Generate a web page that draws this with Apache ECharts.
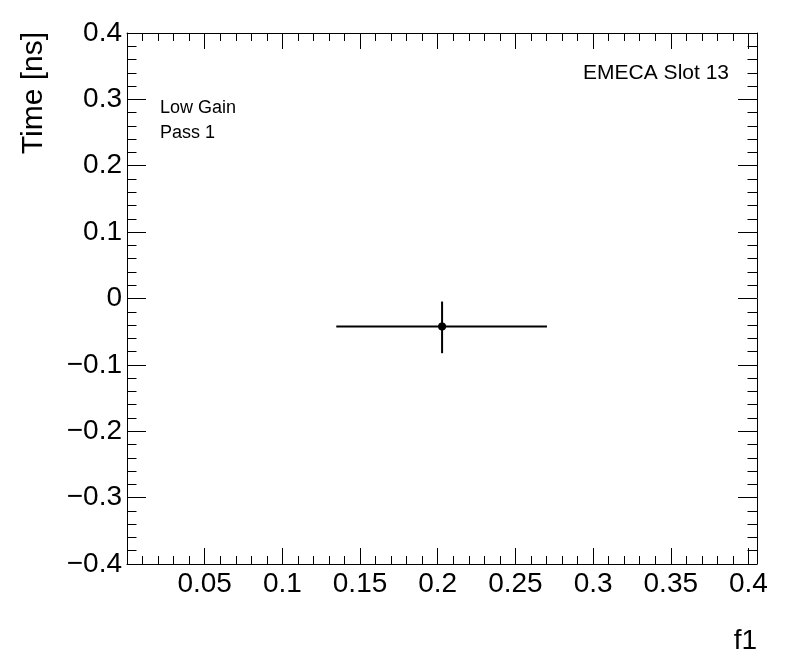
<!DOCTYPE html>
<html>
<head>
<meta charset="utf-8">
<script src="https://cdn.jsdelivr.net/npm/echarts@6/dist/echarts.min.js"></script>
<style>
html,body{margin:0;padding:0;background:#fff;}
#main{width:796px;height:672px;}
</style>
</head>
<body>
<div id="main"></div>
<script>
// ---- data ----
const pointX = [0.2028];
const pointY = [-0.0423];
const xErrLow = [0.1347];
const xErrHigh = [0.2703];
const yErrLow = [-0.0824];
const yErrHigh = [-0.0046];
const xTickLabels = [0.05, 0.1, 0.15, 0.2, 0.25, 0.3, 0.35, 0.4];
const yTickLabels = [-0.4, -0.3, -0.2, -0.1, 0, 0.1, 0.2, 0.3, 0.4];
const xTitle = 'f1';
const yTitle = 'Time [ns]';
const labelTexts = ['Low Gain', 'Pass 1'];
const slotText = 'EMECA Slot 13';

const FONT = '"Liberation Sans", Arial, Helvetica, sans-serif';
const X_MIN = 0, X_MAX = 0.4055, Y_MIN = -0.4, Y_MAX = 0.4;

const data = pointX.map((x, i) => [x, pointY[i], xErrLow[i], xErrHigh[i], yErrLow[i], yErrHigh[i]]);

function fmtX(v) {
  const r = Math.round(v * 100) / 100;
  if (Math.abs(v - r) > 1e-9) return '';
  return xTickLabels.some(t => Math.abs(t - r) < 1e-9) ? String(r) : '';
}
function fmtY(v) {
  const r = Math.round(v * 10) / 10;
  if (!yTickLabels.some(t => Math.abs(t - r) < 1e-9)) return '';
  const s = String(Math.abs(r));
  return r < 0 ? '\u2212' + s : s;
}

const lineStyle = {color: '#000', width: 1};

function xAxisDef(pos, interval, len, showLine, showLabel) {
  return {
    type: 'value', position: pos, min: X_MIN, max: X_MAX, interval: interval,
    axisLine: {show: showLine, onZero: false, lineStyle: lineStyle},
    axisTick: {show: true, inside: true, length: len, lineStyle: lineStyle},
    axisLabel: {show: showLabel, formatter: fmtX, fontFamily: FONT, fontSize: 28, color: '#000', margin: 6,
                showMinLabel: true, showMaxLabel: true},
    splitLine: {show: false}
  };
}
function yAxisDef(pos, showLabel) {
  return {
    type: 'value', position: pos, min: Y_MIN, max: Y_MAX, interval: 0.1,
    axisLine: {show: true, onZero: false, lineStyle: lineStyle},
    axisTick: {show: true, inside: true, length: 19, lineStyle: lineStyle},
    minorTick: {show: true, splitNumber: 5, length: 9.5, lineStyle: lineStyle},
    axisLabel: {show: showLabel, formatter: fmtY, fontFamily: FONT, fontSize: 28, color: '#000', margin: 5,
                padding: [4, 0, 0, 0]},
    splitLine: {show: false}
  };
}

const chart = echarts.init(document.getElementById('main'), null, {renderer: 'canvas'});
chart.setOption({
  animation: false,
  backgroundColor: '#fff',
  grid: {left: 127, right: 39, top: 33, bottom: 108, containLabel: false},
  xAxis: [
    xAxisDef('bottom', 0.05, 16, true, true),
    xAxisDef('bottom', 0.01, 8, false, false),
    xAxisDef('top', 0.05, 16, true, false),
    xAxisDef('top', 0.01, 8, false, false)
  ],
  yAxis: [
    yAxisDef('left', true),
    yAxisDef('right', false)
  ],
  graphic: [
    {type: 'text', x: 729, y: 73, style: {text: slotText, font: '21px ' + FONT, fill: '#000', align: 'right', verticalAlign: 'middle'}},
    {type: 'text', x: 160, y: 108, style: {text: labelTexts[0], font: '18px ' + FONT, fill: '#000', align: 'left', verticalAlign: 'middle'}},
    {type: 'text', x: 160, y: 133.5, style: {text: labelTexts[1], font: '18px ' + FONT, fill: '#000', align: 'left', verticalAlign: 'middle'}},
    {type: 'text', x: 33.5, y: 32, rotation: Math.PI / 2, style: {text: yTitle, font: '30px ' + FONT, fill: '#000', align: 'right', verticalAlign: 'middle'}},
    {type: 'text', x: 757, y: 641, style: {text: xTitle, font: '28px ' + FONT, fill: '#000', align: 'right', verticalAlign: 'middle'}}
  ],
  series: [{
    type: 'custom',
    xAxisIndex: 0, yAxisIndex: 0,
    data: data,
    renderItem: function (params, api) {
      const x = api.value(0), y = api.value(1);
      const c = api.coord([x, y]);
      const xl = api.coord([api.value(2), y]);
      const xh = api.coord([api.value(3), y]);
      const yl = api.coord([x, api.value(4)]);
      const yh = api.coord([x, api.value(5)]);
      const st = {stroke: '#000', lineWidth: 2};
      return {
        type: 'group',
        children: [
          {type: 'line', shape: {x1: xl[0], y1: xl[1], x2: xh[0], y2: xh[1]}, style: st},
          {type: 'line', shape: {x1: yl[0], y1: yl[1], x2: yh[0], y2: yh[1]}, style: st},
          {type: 'circle', shape: {cx: c[0], cy: c[1], r: 4}, style: {fill: '#000'}}
        ]
      };
    }
  }]
});
</script>
</body>
</html>
